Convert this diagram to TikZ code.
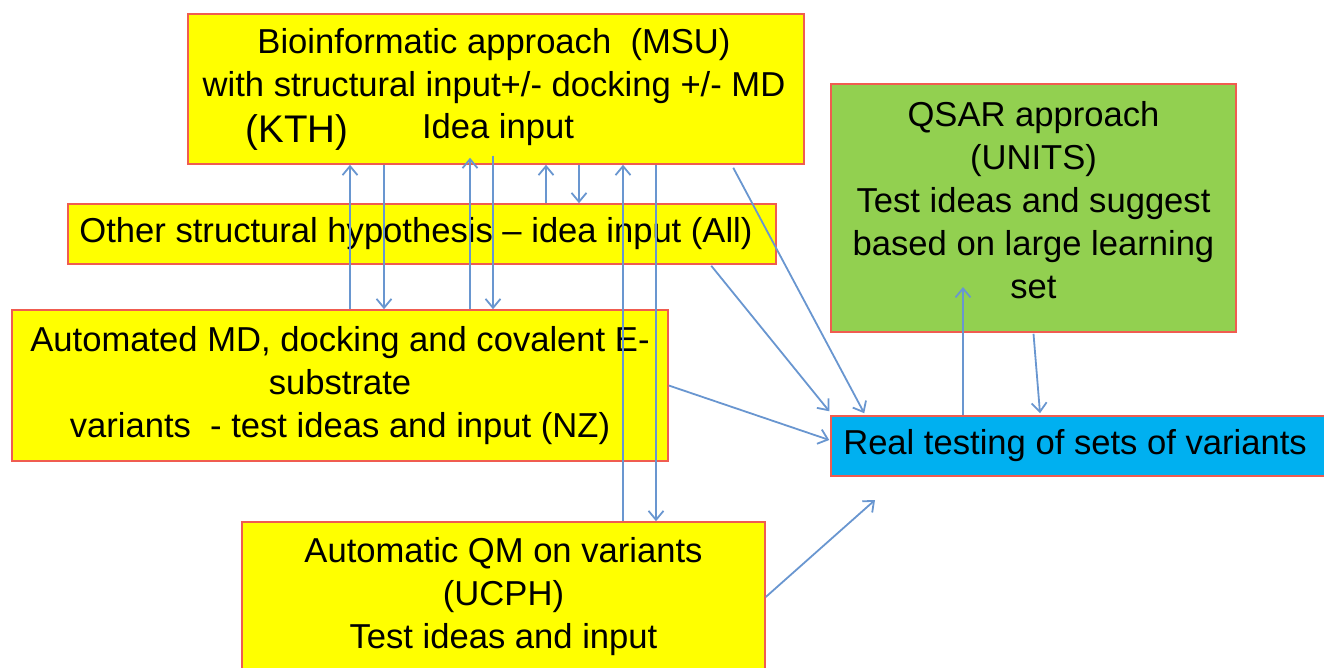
\documentclass[tikz,border=0pt]{standalone}
\usepackage{fontspec}
\setmainfont{Liberation Sans}
\usetikzlibrary{arrows.meta,calc}
\definecolor{boxred}{RGB}{240,92,80}
\definecolor{ylw}{RGB}{255,255,0}
\definecolor{grn}{RGB}{146,208,80}
\definecolor{blu}{RGB}{0,176,240}
\definecolor{arr}{RGB}{105,150,208}
\begin{document}
\begin{tikzpicture}[x=1pt,y=-1pt,
  box/.style={draw=boxred, line width=1.5pt, inner sep=0pt},
  lbl/.style={font=\fontsize{34.6}{43}\selectfont, align=center, inner sep=0pt},
  conn/.style={draw=arr, line width=1.8pt, -{Straight Barb[length=9pt,width=15pt]}}
]
\useasboundingbox (0,0) rectangle (1324,668);
% boxes
\node[box, fill=ylw, minimum width=616pt, minimum height=150pt] (bio) at (496,89) {};
\node[lbl] (biot) at (494,66) {Bioinformatic approach\ \ (MSU)\\with structural input+/- docking +/- MD};
\node[lbl, font=\fontsize{38.5}{43}\selectfont] (kth) at (297,133) {(KTH)};
\node[lbl] (idea) at (498,130) {Idea input};
\node[box, fill=ylw, minimum width=708pt, minimum height=60pt, lbl] (other) at (422,234) {\hspace*{-12pt}Other structural hypothesis -- idea input (All)};
\node[box, fill=ylw, minimum width=656pt, minimum height=151pt, lbl] (auto) at (340,385.5) {Automated MD, docking and covalent E-\\substrate\\variants\ \ - test ideas and input (NZ)};
\node[box, fill=ylw, minimum width=523pt, minimum height=150pt, lbl] (qm) at (503.5,597) {Automatic QM on variants\\(UCPH)\\Test ideas and input};
\node[box, fill=grn, minimum width=405pt, minimum height=248pt] (qsar) at (1033.5,208) {};
\node[lbl] (qsart) at (1033.5,200) {QSAR approach\\(UNITS)\\Test ideas and suggest\\based on large learning\\set};
\node[box, fill=blu, minimum width=495pt, minimum height=60pt, lbl] (real) at (1078.5,446) {\hspace*{-7pt}Real testing of sets of variants};
% x positions
\coordinate (c350) at (350,0);
\coordinate (c384) at (384,0);
\coordinate (c470) at (470,0);
\coordinate (c493) at (493,0);
\coordinate (c546) at (546,0);
\coordinate (c579) at (579,0);
\coordinate (c623) at (623,0);
\coordinate (c656) at (656,0);
\coordinate (c963) at (963,0);
\coordinate (c1040) at (1040,0);
\coordinate (free) at (875,500);
\coordinate (qtip) at (963,287);
% vertical connectors
\draw[conn] (auto.north -| c350) -- (bio.south -| c350);
\draw[conn] (bio.south -| c384) -- (auto.north -| c384);
\draw[conn] (auto.north -| c470) -- ($(bio.south -| c470)+(0,-7)$);
\draw[conn] ($(bio.south -| c493)+(0,-9)$) -- (auto.north -| c493);
\draw[conn] (other.north -| c546) -- (bio.south -| c546);
\draw[conn] (bio.south -| c579) -- (other.north -| c579);
\draw[conn] (qm.north -| c623) -- (bio.south -| c623);
\draw[conn] (bio.south -| c656) -- (qm.north -| c656);
% diagonal connectors
\draw[conn] ($(bio.south west)+(546,3)$) -- ($(real.north west)+(34,-2)$);
\draw[conn] ($(other.south west)+(644,1)$) -- ($(real.north west)+(-1,-4)$);
\draw[conn] (auto.east) -- ($(real.west)+(-1,-6)$);
\draw[conn] (qm.east) -- (free);
% QSAR connectors
\draw[conn] (real.north -| c963) -- (qtip);
\draw[conn] ($(qsar.south)+(0,1)$) -- ($(real.north -| c1040)+(0,-2)$);
\end{tikzpicture}
\end{document}
